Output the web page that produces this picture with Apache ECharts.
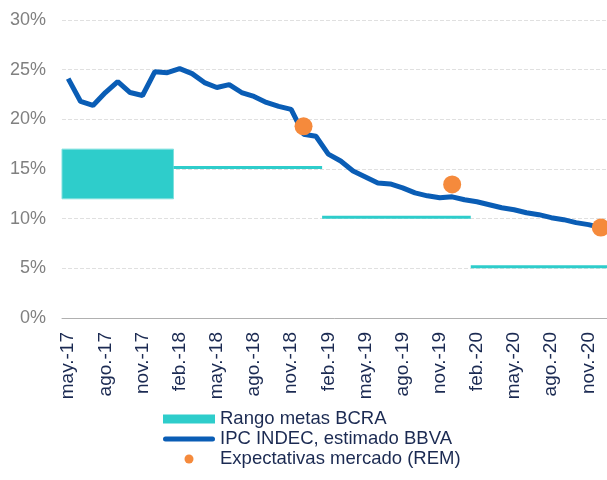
<!DOCTYPE html>
<html>
<head>
<meta charset="utf-8">
<script src="https://cdn.jsdelivr.net/npm/echarts@6/dist/echarts.min.js"></script>
<style>
  html, body { margin: 0; padding: 0; background: #fff; }
  #chart { width: 607px; height: 480px; }
</style>
</head>
<body>
<div id="chart"></div>
<script>
// meses (categorias)
var months = [
  'may.-17','jun.-17','jul.-17','ago.-17','sep.-17','oct.-17','nov.-17','dic.-17',
  'ene.-18','feb.-18','mar.-18','abr.-18','may.-18','jun.-18','jul.-18','ago.-18','sep.-18','oct.-18','nov.-18','dic.-18',
  'ene.-19','feb.-19','mar.-19','abr.-19','may.-19','jun.-19','jul.-19','ago.-19','sep.-19','oct.-19','nov.-19','dic.-19',
  'ene.-20','feb.-20','mar.-20','abr.-20','may.-20','jun.-20','jul.-20','ago.-20','sep.-20','oct.-20','nov.-20','dic.-20'
];

// IPC INDEC, estimado BBVA (% a/a)
var ipc = [
  24.1, 21.8, 21.4, 22.7, 23.8, 22.7, 22.4, 24.8,
  24.7, 25.1, 24.6, 23.7, 23.2, 23.5, 22.7, 22.3, 21.7, 21.3, 21.0, 18.5,
  18.3, 16.5, 15.8, 14.8, 14.2, 13.6, 13.5, 13.1, 12.6, 12.3, 12.1, 12.2,
  11.9, 11.7, 11.4, 11.1, 10.9, 10.6, 10.4, 10.1, 9.9, 9.6, 9.4, 9.1
];

// Expectativas mercado (REM)
var remMonths = ['dic.-18', 'dic.-19', 'dic.-20'];
var remValues = [19.3, 13.45, 9.1];

// Rango metas BCRA
var metaStart = ['may.-17', 'feb.-18', 'feb.-19', 'feb.-20'];
var metaEnd   = ['ene.-18', 'ene.-19', 'ene.-20', 'dic.-20'];
var metaLow   = [12, 15, 10, 5];
var metaHigh  = [17, 15, 10, 5];

var yTicks = { min: 0, max: 30, interval: 5 };

var navy = '#1b2a52';
var font = 'Liberation Sans, Arial, sans-serif';

var metaData = [];
for (var i = 0; i < metaStart.length; i++) {
  metaData.push([months.indexOf(metaStart[i]), months.indexOf(metaEnd[i]), metaLow[i], metaHigh[i]]);
}
var remData = [];
for (var j = 0; j < remMonths.length; j++) {
  remData.push([remMonths[j], remValues[j]]);
}

var myChart = echarts.init(document.getElementById('chart'));
myChart.setOption({
  animation: false,
  textStyle: { fontFamily: font },
  grid: { left: 62, right: 0, top: 20, bottom: 162, containLabel: false },
  legend: {
    orient: 'vertical',
    left: 163,
    top: 409,
    padding: 0,
    itemWidth: 52,
    itemHeight: 9,
    itemGap: 0,
    textStyle: { color: navy, fontSize: 18.5, lineHeight: 20, fontFamily: font },
    data: [
      { name: 'Rango metas BCRA', icon: 'rect' },
      // linea gruesa con puntas redondeadas
      { name: 'IPC INDEC, estimado BBVA', icon: 'path://M2.5,0 H49.5 A2.5,2.5 0 0 1 49.5,5 H2.5 A2.5,2.5 0 0 1 2.5,0 Z' },
      { name: 'Expectativas mercado (REM)', icon: 'circle' }
    ]
  },
  xAxis: {
    type: 'category',
    data: months,
    boundaryGap: true,
    axisLine: { lineStyle: { color: '#b0b0b0' } },
    axisTick: { interval: 2, length: 5, lineStyle: { color: '#b0b0b0' } },
    axisLabel: { interval: 2, rotate: 90, margin: 14, padding: [6, 0, 0, 0], color: navy, fontSize: 19, fontFamily: font }
  },
  yAxis: {
    type: 'value',
    min: yTicks.min,
    max: yTicks.max,
    interval: yTicks.interval,
    axisLine: { show: false },
    axisTick: { show: false },
    axisLabel: { formatter: '{value}%', color: '#808080', fontSize: 18, margin: 16, fontFamily: font },
    splitLine: { lineStyle: { color: '#e0e0e0', type: 'dashed' } }
  },
  series: [
    {
      name: 'Rango metas BCRA',
      type: 'custom',
      color: '#2ecdcb',
      data: metaData,
      encode: { x: [0, 1], y: [2, 3] },
      renderItem: function (params, api) {
        var w = api.size([1, 0])[0];
        var top = api.coord([api.value(0), api.value(3)]);
        var bot = api.coord([api.value(1), api.value(2)]);
        var x0 = top[0] - w / 2;
        var x1 = bot[0] + w / 2;
        var y0 = top[1];
        var h = bot[1] - top[1];
        if (h < 1) { y0 = top[1] - 3; h = 3; }
        return {
          type: 'rect',
          shape: { x: x0, y: y0, width: x1 - x0, height: h },
          style: { fill: '#2ecdcb', stroke: h > 3 ? '#7fe0de' : null, lineWidth: 1 }
        };
      },
      z: 1
    },
    {
      name: 'IPC INDEC, estimado BBVA',
      type: 'line',
      data: ipc,
      color: '#0a5db5',
      symbol: 'none',
      lineStyle: { width: 5, color: '#0a5db5' },
      z: 2
    },
    {
      name: 'Expectativas mercado (REM)',
      type: 'scatter',
      data: remData,
      color: '#f58a3c',
      symbolSize: 18,
      itemStyle: { color: '#f58a3c', opacity: 1 },
      z: 3
    }
  ]
});
</script>
</body>
</html>
